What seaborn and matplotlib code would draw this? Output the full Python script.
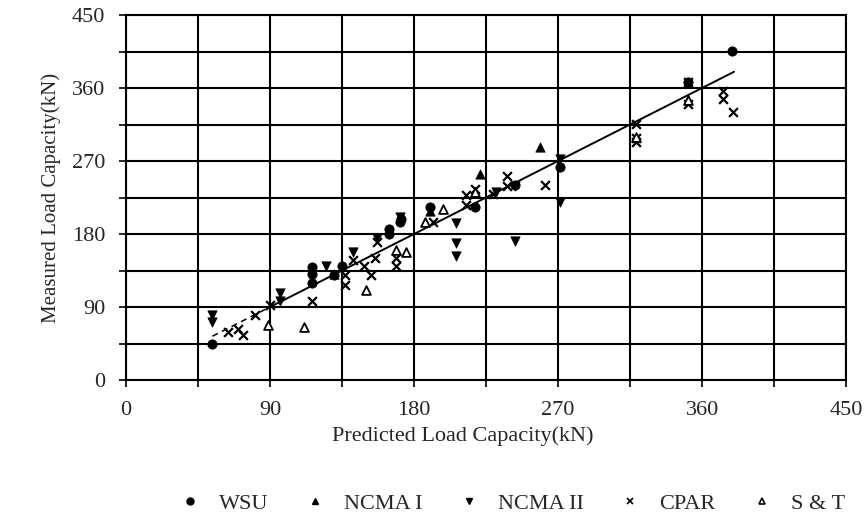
#Import Libraries
import pandas as pd
import numpy as np
import matplotlib.pyplot as plt
import seaborn as sns
from matplotlib.lines import Line2D
from matplotlib.ticker import MultipleLocator

#Data (predicted, measured) in kN
wsu_x = [53.5, 116, 116, 116, 130, 135, 164.6, 164.6, 172, 171, 190, 218, 243, 271, 351, 379]
wsu_y = [45, 139, 131, 119, 129, 141, 186.5, 180, 199, 195, 213, 213, 240, 262, 368, 406]

ncma1_x = [130, 190, 221, 259]
ncma1_y = [131, 208, 254, 287]

ncma2_x = [54, 54, 96, 96, 125, 142, 157, 171, 206, 206, 206, 231, 243, 243, 271, 271]
ncma2_y = [80, 72, 107, 98, 141, 158, 175, 201, 193.5, 169, 152.5, 232, 171, 239, 273, 219]

cpar_x = [64, 70, 73, 80.6, 90, 116, 137, 137, 142, 149, 153, 155.6, 157, 169, 169, 192,
          212.5, 212.5, 218, 229.6, 238, 238, 262, 319, 319, 319, 351, 351, 373, 373, 379.6]
cpar_y = [59, 63.5, 55, 80, 92, 98, 129, 117, 148, 141, 129, 151, 170, 151, 141, 195,
          227.5, 216, 236, 229.6, 252, 239, 241, 316, 298, 293, 368, 340, 356, 346, 330]

st_x = [89, 111, 150, 169, 175, 187, 198, 218, 319, 351]
st_y = [67.6, 65, 111, 160, 158, 195, 211, 232, 300, 345]

fit_dash_x = [54, 90]
fit_solid_x = [90, 380]

groups = ["WSU", "NCMA I", "NCMA II", "CPAR", "S & T"]
markers = {"WSU": "o", "NCMA I": "^", "NCMA II": "v", "CPAR": "x", "S & T": "^"}

frames = []
for name, xs, ys in zip(groups,
                        [wsu_x, ncma1_x, ncma2_x, cpar_x, st_x],
                        [wsu_y, ncma1_y, ncma2_y, cpar_y, st_y]):
    frames.append(pd.DataFrame({"Predicted": xs, "Measured": ys, "Group": name}))
df = pd.concat(frames, ignore_index=True)

sns.set_style("white")
plt.rcParams['font.family'] = ['Liberation Serif', 'DejaVu Serif']

fig = plt.figure(figsize=(8.66, 5.21), dpi=100)
ax = fig.add_axes([0.1455, 0.2706, 0.8315, 0.7006])

#Scatter points
for name in groups:
    sub = df[df["Group"] == name]
    if name == "S & T":
        sns.scatterplot(data=sub, x="Predicted", y="Measured", marker="^", s=40,
                        facecolors="white", edgecolor="black", linewidth=1.3, ax=ax, zorder=3)
    elif name == "CPAR":
        sns.scatterplot(data=sub, x="Predicted", y="Measured", marker="x", s=40,
                        color="black", linewidth=1.6, ax=ax, zorder=3)
    else:
        sns.scatterplot(data=sub, x="Predicted", y="Measured", marker=markers[name], s=45,
                        color="black", edgecolor="black", ax=ax, zorder=3)

#Fit line (1:1)
ax.plot(fit_dash_x, fit_dash_x, color="black", lw=1.1, ls=(0, (4, 3)), zorder=2)
ax.plot(fit_solid_x, fit_solid_x, color="black", lw=1.4, zorder=2)

ax.set_xlim(0, 450)
ax.set_ylim(0, 450)
ax.xaxis.set_major_locator(MultipleLocator(90))
ax.yaxis.set_major_locator(MultipleLocator(90))
ax.xaxis.set_minor_locator(MultipleLocator(45))
ax.yaxis.set_minor_locator(MultipleLocator(45))
ax.grid(True, which="both", color="black", lw=1.5)
for sp in ax.spines.values():
    sp.set_color("black")
    sp.set_linewidth(1.5)
ax.tick_params(which="both", direction="out", length=5, width=1.2, color="black",
               bottom=True, left=True, labelsize=16)
ax.tick_params(axis="x", pad=10)
ax.tick_params(axis="y", pad=10)

ax.set_xlabel("Predicted Load Capacity(kN)", fontsize=16)
ax.xaxis.set_label_coords(0.467, -0.128)
ax.set_ylabel("Measured Load Capacity(kN)", fontsize=15, labelpad=8)

#Legend at the bottom
handles = [
    Line2D([], [], ls="none", marker="o", ms=5, color="black"),
    Line2D([], [], ls="none", marker="^", ms=5, color="black"),
    Line2D([], [], ls="none", marker="v", ms=5, color="black"),
    Line2D([], [], ls="none", marker="x", ms=4, color="black", mew=1.2),
    Line2D([], [], ls="none", marker="^", ms=5, mfc="white", mec="black", mew=1.2),
]
fig.legend(handles, groups, loc="center", bbox_to_anchor=(0.591, 0.033), ncol=5,
           frameon=False, fontsize=16, handlelength=1.0, handletextpad=0.8,
           columnspacing=1.6)

plt.savefig("out.png", dpi=100)
